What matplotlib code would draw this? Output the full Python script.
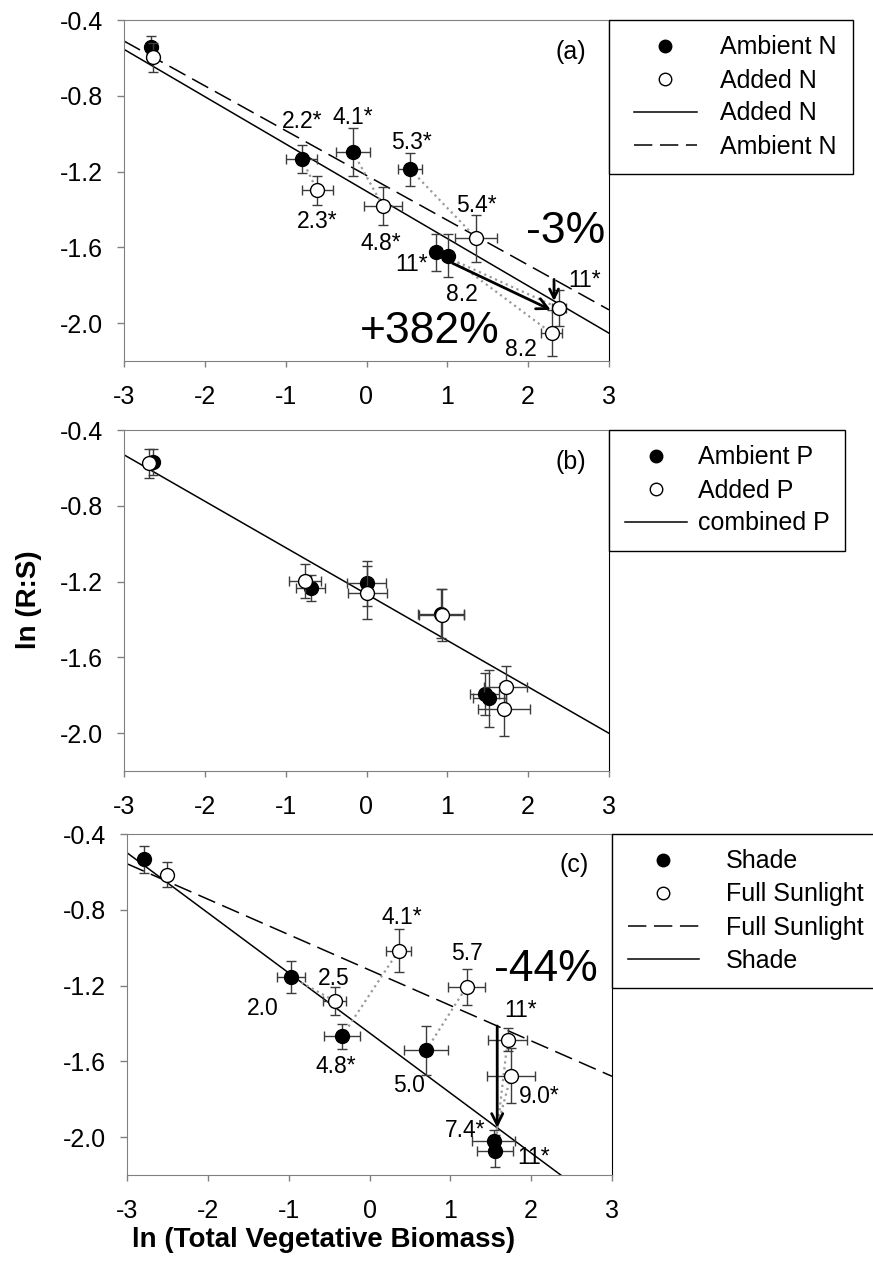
import matplotlib.pyplot as plt
from matplotlib.lines import Line2D
from matplotlib.legend_handler import HandlerLine2D
import numpy as np

plt.rcParams['font.family'] = ['Liberation Sans', 'DejaVu Sans']
plt.rcParams['axes.unicode_minus'] = False

# (a) nitrogen treatment: ln(total vegetative biomass) vs ln(R:S), mean +/- SE
amb_n_x = [-2.67, -0.80, -0.17, 0.54, 0.86, 1.01]
amb_n_y = [-0.545, -1.133, -1.095, -1.188, -1.626, -1.645]
amb_n_xerr = [0.05, 0.19, 0.21, 0.145, 0.06, 0.06]
amb_n_yerr = [0.06, 0.075, 0.127, 0.088, 0.097, 0.113]
amb_n_lab = ['', '2.2*', '4.1*', '5.3*', '11*', '8.2']

add_n_x = [-2.64, -0.61, 0.20, 1.36, 2.38, 2.29]
add_n_y = [-0.597, -1.30, -1.38, -1.552, -1.921, -2.053]
add_n_xerr = [0.05, 0.19, 0.236, 0.26, 0.09, 0.13]
add_n_yerr = [0.076, 0.075, 0.10, 0.123, 0.095, 0.12]
add_n_lab = ['', '2.3*', '4.8*', '5.4*', '11*', '8.2']

fit_n = {'Added N': (-0.2497, -1.304), 'Ambient N': (-0.2365, -1.2205)}

# (b) phosphorus treatment
amb_p_x = [-2.64, -0.69, 0.00, 0.92, 1.46, 1.52]
amb_p_y = [-0.57, -1.235, -1.21, -1.37, -1.793, -1.816]
amb_p_xerr = [0.05, 0.18, 0.24, 0.28, 0.18, 0.20]
amb_p_yerr = [0.07, 0.07, 0.12, 0.13, 0.11, 0.15]

add_p_x = [-2.69, -0.76, 0.01, 0.93, 1.72, 1.70]
add_p_y = [-0.576, -1.195, -1.26, -1.375, -1.755, -1.874]
add_p_xerr = [0.05, 0.20, 0.24, 0.28, 0.27, 0.32]
add_p_yerr = [0.075, 0.09, 0.14, 0.137, 0.11, 0.14]

fit_p = (-0.245, -1.266)

# (c) light treatment
shade_x = [-2.79, -0.97, -0.34, 0.70, 1.535, 1.55]
shade_y = [-0.534, -1.154, -1.468, -1.542, -2.022, -2.075]
shade_xerr = [0.04, 0.17, 0.22, 0.275, 0.27, 0.22]
shade_yerr = [0.07, 0.085, 0.067, 0.13, 0.06, 0.085]
shade_lab = ['', '2.0', '4.8*', '5.0', '7.4*', '11*']

sun_x = [-2.51, -0.43, 0.36, 1.20, 1.75, 1.71]
sun_y = [-0.614, -1.282, -1.016, -1.207, -1.675, -1.485]
sun_xerr = [0.04, 0.145, 0.15, 0.23, 0.30, 0.24]
sun_yerr = [0.065, 0.076, 0.115, 0.094, 0.145, 0.06]
sun_lab = ['', '2.5', '4.1*', '5.7', '9.0*', '11*']

fit_light = {'Full Sunlight': (-0.187, -1.118), 'Shade': (-0.317, -1.45)}

# label offsets in pixels (dx, dy) from each point
amb_n_off = [None, (0, 37), (0, 34), (1, 27), (-24, -12), (14, -39)]
add_n_off = [None, (0, -31), (-2, -38), (0, 33), (26, 28), (-31, -16)]
shade_off = [None, (-28, -32), (-6, -30), (-17, -35), (-28, 11), (39, -6)]
sun_off = [None, (-1, 23), (3, 33), (0, 33), (28, -21), (13, 29)]

W, H = 873, 1272
GRAY = '#808080'
EBAR = '#3c3c3c'
xfit = np.array([-3.0, 3.0])

fig = plt.figure(figsize=(W / 100, H / 100), dpi=100)


def make_axes(left, top):
    ax = fig.add_axes([left / W, 1 - (top + 341) / H, 485 / W, 341 / H])
    ax.set_xlim(-3, 3)
    ax.set_ylim(-2.2, -0.4)
    ax.set_xticks(range(-3, 4))
    ax.set_yticks([-0.4, -0.8, -1.2, -1.6, -2.0])
    ax.set_yticklabels(['-0.4', '-0.8', '-1.2', '-1.6', '-2.0'])
    for side in ['left', 'bottom', 'top']:
        ax.spines[side].set_color(GRAY)
    ax.spines['right'].set_color('black')
    ax.tick_params(axis='both', direction='out', color=GRAY, width=1,
                   labelsize=18)
    ax.tick_params(axis='y', length=5, pad=10)
    ax.tick_params(axis='x', length=4, pad=13)
    return ax


def draw_points(ax, x, y, xe, ye, face, z):
    ax.errorbar(x, y, xerr=xe, yerr=ye, fmt='none', ecolor=EBAR,
                elinewidth=1, capsize=3.5, capthick=1, zorder=z)
    ax.plot(x, y, 'o', ms=10, mfc=face, mec='black', mew=1, ls='none',
            zorder=z + 0.5)


def connect(ax, x1, y1, x2, y2):
    for i in range(1, len(x1)):
        ax.plot([x1[i], x2[i]], [y1[i], y2[i]], ls=':', color='#9a9a9a',
                lw=1.6, zorder=2)


def label_points(ax, x, y, labels, offs):
    for xi, yi, t, o in zip(x, y, labels, offs):
        if t:
            ax.annotate(t, (xi, yi), xytext=o, textcoords='offset pixels',
                        ha='center', va='center', fontsize=16.5, zorder=6)


def fit_line(ax, coef, ls):
    m, b = coef
    ln, = ax.plot(xfit, m * xfit + b, color='black', lw=1.1, zorder=1)
    if ls == 'dashed':
        ln.set_dashes([12, 5])
    return ln


def legend(ax, entries, hlen, xpad, tpad):
    handles = []
    labels = []
    for kind, lab in entries:
        if kind == 'filled':
            h = Line2D([], [], marker='o', ms=9, mfc='black', mec='black', ls='none')
        elif kind == 'open':
            h = Line2D([], [], marker='o', ms=9, mfc='white', mec='black', ls='none')
        elif kind == 'solid':
            h = Line2D([], [], color='black', lw=1.1)
        else:
            h = Line2D([], [], color='black', lw=1.1, dashes=[12, 5])
        handles.append(h)
        labels.append(lab)
    lg = ax.legend(handles, labels, loc='upper left',
                   bbox_to_anchor=(1.0, 1.0), borderaxespad=0,
                   fontsize=18, frameon=True, fancybox=False, framealpha=1,
                   edgecolor='black', handlelength=hlen, handletextpad=tpad,
                   labelspacing=0.36, borderpad=0.62,
                   handler_map={Line2D: HandlerLine2D(xpad=xpad)})
    lg.get_frame().set_linewidth(1)


def arrow(ax, start, end, scale):
    ax.annotate('', xy=end, xytext=start,
                arrowprops=dict(arrowstyle='->', lw=2, color='black',
                                mutation_scale=scale, shrinkA=0, shrinkB=0),
                zorder=7)


# ---- panel (a)
ax1 = make_axes(124, 20)
fit_line(ax1, fit_n['Added N'], 'solid')
fit_line(ax1, fit_n['Ambient N'], 'dashed')
connect(ax1, amb_n_x, amb_n_y, add_n_x, add_n_y)
draw_points(ax1, amb_n_x, amb_n_y, amb_n_xerr, amb_n_yerr, 'black', 3)
draw_points(ax1, add_n_x, add_n_y, add_n_xerr, add_n_yerr, 'white', 4)
label_points(ax1, amb_n_x, amb_n_y, amb_n_lab, amb_n_off)
label_points(ax1, add_n_x, add_n_y, add_n_lab, add_n_off)
# shift between the two fits, and from ambient to added N
xa = 2.32
arrow(ax1, (xa, fit_n['Ambient N'][0] * xa + fit_n['Ambient N'][1]),
      (xa, fit_n['Added N'][0] * xa + fit_n['Added N'][1]), 16)
arrow(ax1, (1.065, -1.684), (2.28, -1.93), 20)
ax1.text(2.465, -1.517, '-3%', fontsize=32, ha='center', va='center')
ax1.text(0.778, -2.045, '+382%', fontsize=32, ha='center', va='center')
ax1.text(2.53, -0.567, '(a)', fontsize=18, ha='center', va='center')
legend(ax1, [('filled', 'Ambient N'), ('open', 'Added N'),
             ('solid', 'Added N'), ('dashed', 'Ambient N')], 2.88, 0.38, 0.96)

# ---- panel (b)
ax2 = make_axes(124, 430)
fit_line(ax2, fit_p, 'solid')
draw_points(ax2, amb_p_x, amb_p_y, amb_p_xerr, amb_p_yerr, 'black', 3)
draw_points(ax2, add_p_x, add_p_y, add_p_xerr, add_p_yerr, 'white', 4)
ax2.text(2.53, -0.567, '(b)', fontsize=18, ha='center', va='center')
legend(ax2, [('filled', 'Ambient P'), ('open', 'Added P'),
             ('solid', 'combined P')], 2.5, 0.0, 0.44)

# ---- panel (c)
ax3 = make_axes(127, 834)
fit_line(ax3, fit_light['Full Sunlight'], 'dashed')
fit_line(ax3, fit_light['Shade'], 'solid')
connect(ax3, shade_x, shade_y, sun_x, sun_y)
draw_points(ax3, shade_x, shade_y, shade_xerr, shade_yerr, 'black', 3)
draw_points(ax3, sun_x, sun_y, sun_xerr, sun_yerr, 'white', 4)
label_points(ax3, shade_x, shade_y, shade_lab, shade_off)
label_points(ax3, sun_x, sun_y, sun_lab, sun_off)
xc = 1.58
arrow(ax3, (xc, fit_light['Full Sunlight'][0] * xc + fit_light['Full Sunlight'][1]),
      (xc, fit_light['Shade'][0] * xc + fit_light['Shade'][1]), 20)
ax3.text(2.176, -1.114, '-44%', fontsize=32, ha='center', va='center')
ax3.text(2.53, -0.565, '(c)', fontsize=18, ha='center', va='center')
legend(ax3, [('filled', 'Shade'), ('open', 'Full Sunlight'),
             ('dashed', 'Full Sunlight'), ('solid', 'Shade')], 2.85, 0.0, 1.08)

fig.text(29 / W, 1 - 600 / H, 'ln (R:S)', rotation=90, fontsize=20,
         fontweight='bold', ha='center', va='center')
fig.text(324 / W, 1 - 1240 / H, 'ln (Total Vegetative Biomass)', fontsize=20,
         fontweight='bold', ha='center', va='center')

fig.savefig('out.png', dpi=100)
